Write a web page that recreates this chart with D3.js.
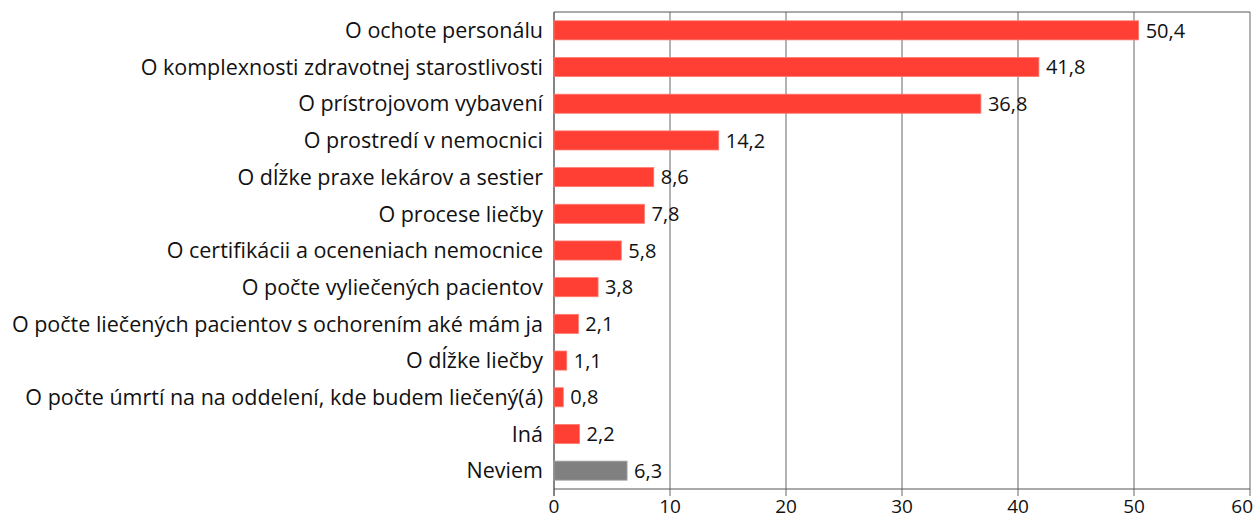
<!DOCTYPE html>
<html>
<head>
    <meta charset="utf-8">
    <title>Informácie</title>
    <script src="https://d3js.org/d3.v7.min.js"></script>
    <style>
        body { margin: 0; background: #fff; }
        text { font-family: "Open Sans", "Noto Sans", sans-serif; fill: #111; }
    </style>
</head>
<body>
    <svg width="1253" height="520"></svg>
    <script>
        // Kategórie a hodnoty (%)
        const categories = [
            "O ochote personálu",
            "O komplexnosti zdravotnej starostlivosti",
            "O prístrojovom vybavení",
            "O prostredí v nemocnici",
            "O dĺžke praxe lekárov a sestier",
            "O procese liečby",
            "O certifikácii a oceneniach nemocnice",
            "O počte vyliečených pacientov",
            "O počte liečených pacientov s ochorením aké mám ja",
            "O dĺžke liečby",
            "O počte úmrtí na na oddelení, kde budem liečený(á)",
            "Iná",
            "Neviem"
        ];
        const values = [50.4, 41.8, 36.8, 14.2, 8.6, 7.8, 5.8, 3.8, 2.1, 1.1, 0.8, 2.2, 6.3];
        const ticks = [0, 10, 20, 30, 40, 50, 60];

        const svg = d3.select("svg");
        const plotLeft = 554, plotRight = 1250, plotTop = 12, plotBottom = 489;

        const x = d3.scaleLinear().domain([0, 60]).range([plotLeft, plotRight]);
        const y = d3.scaleBand().domain(categories).range([plotTop, plotBottom]).paddingInner(0.48).paddingOuter(0.24);

        // mriežka
        svg.selectAll("line.grid")
            .data(ticks)
            .enter()
            .append("line")
            .attr("x1", d => x(d)).attr("x2", d => x(d))
            .attr("y1", plotTop).attr("y2", plotBottom + 7)
            .attr("stroke", "#9a9a9a")
            .attr("stroke-width", 1.5);

        // rám
        svg.append("line")
            .attr("x1", plotLeft).attr("x2", plotRight)
            .attr("y1", plotTop).attr("y2", plotTop)
            .attr("stroke", "#555").attr("stroke-width", 1);
        svg.append("line")
            .attr("x1", plotLeft).attr("x2", plotRight)
            .attr("y1", plotBottom).attr("y2", plotBottom)
            .attr("stroke", "#555").attr("stroke-width", 1);
        svg.append("line")
            .attr("x1", plotLeft).attr("x2", plotLeft)
            .attr("y1", plotTop).attr("y2", plotBottom + 7)
            .attr("stroke", "#555").attr("stroke-width", 1);

        // pruhy
        svg.selectAll("rect.bar")
            .data(values)
            .enter()
            .append("rect")
            .attr("x", x(0))
            .attr("y", (d, i) => y(categories[i]))
            .attr("width", d => x(d) - x(0))
            .attr("height", y.bandwidth())
            .attr("fill", (d, i) => categories[i] === "Neviem" ? "#808080" : "#ff3f33")
            .attr("stroke", (d, i) => categories[i] === "Neviem" ? "#a6a6a6" : "#ff7a70")
            .attr("stroke-width", 0.8);

        // hodnoty
        svg.selectAll("text.val")
            .data(values)
            .enter()
            .append("text")
            .attr("x", d => x(d) + 7)
            .attr("y", (d, i) => y(categories[i]) + y.bandwidth() / 2)
            .attr("dy", "0.36em")
            .attr("font-size", 20)
            .text(d => d.toFixed(1).replace(".", ","));

        // názvy kategórií
        svg.selectAll("text.cat")
            .data(categories)
            .enter()
            .append("text")
            .attr("x", plotLeft - 11)
            .attr("y", d => y(d) + y.bandwidth() / 2)
            .attr("dy", "0.36em")
            .attr("text-anchor", "end")
            .attr("font-size", 21.5)
            .text(d => d);

        // popisy osi
        svg.selectAll("text.tick")
            .data(ticks)
            .enter()
            .append("text")
            .attr("x", d => d === 60 ? 1253 : x(d))
            .attr("y", 513)
            .attr("text-anchor", d => d === 60 ? "end" : "middle")
            .attr("font-size", 19)
            .text(d => d);
    </script>
</body>
</html>
